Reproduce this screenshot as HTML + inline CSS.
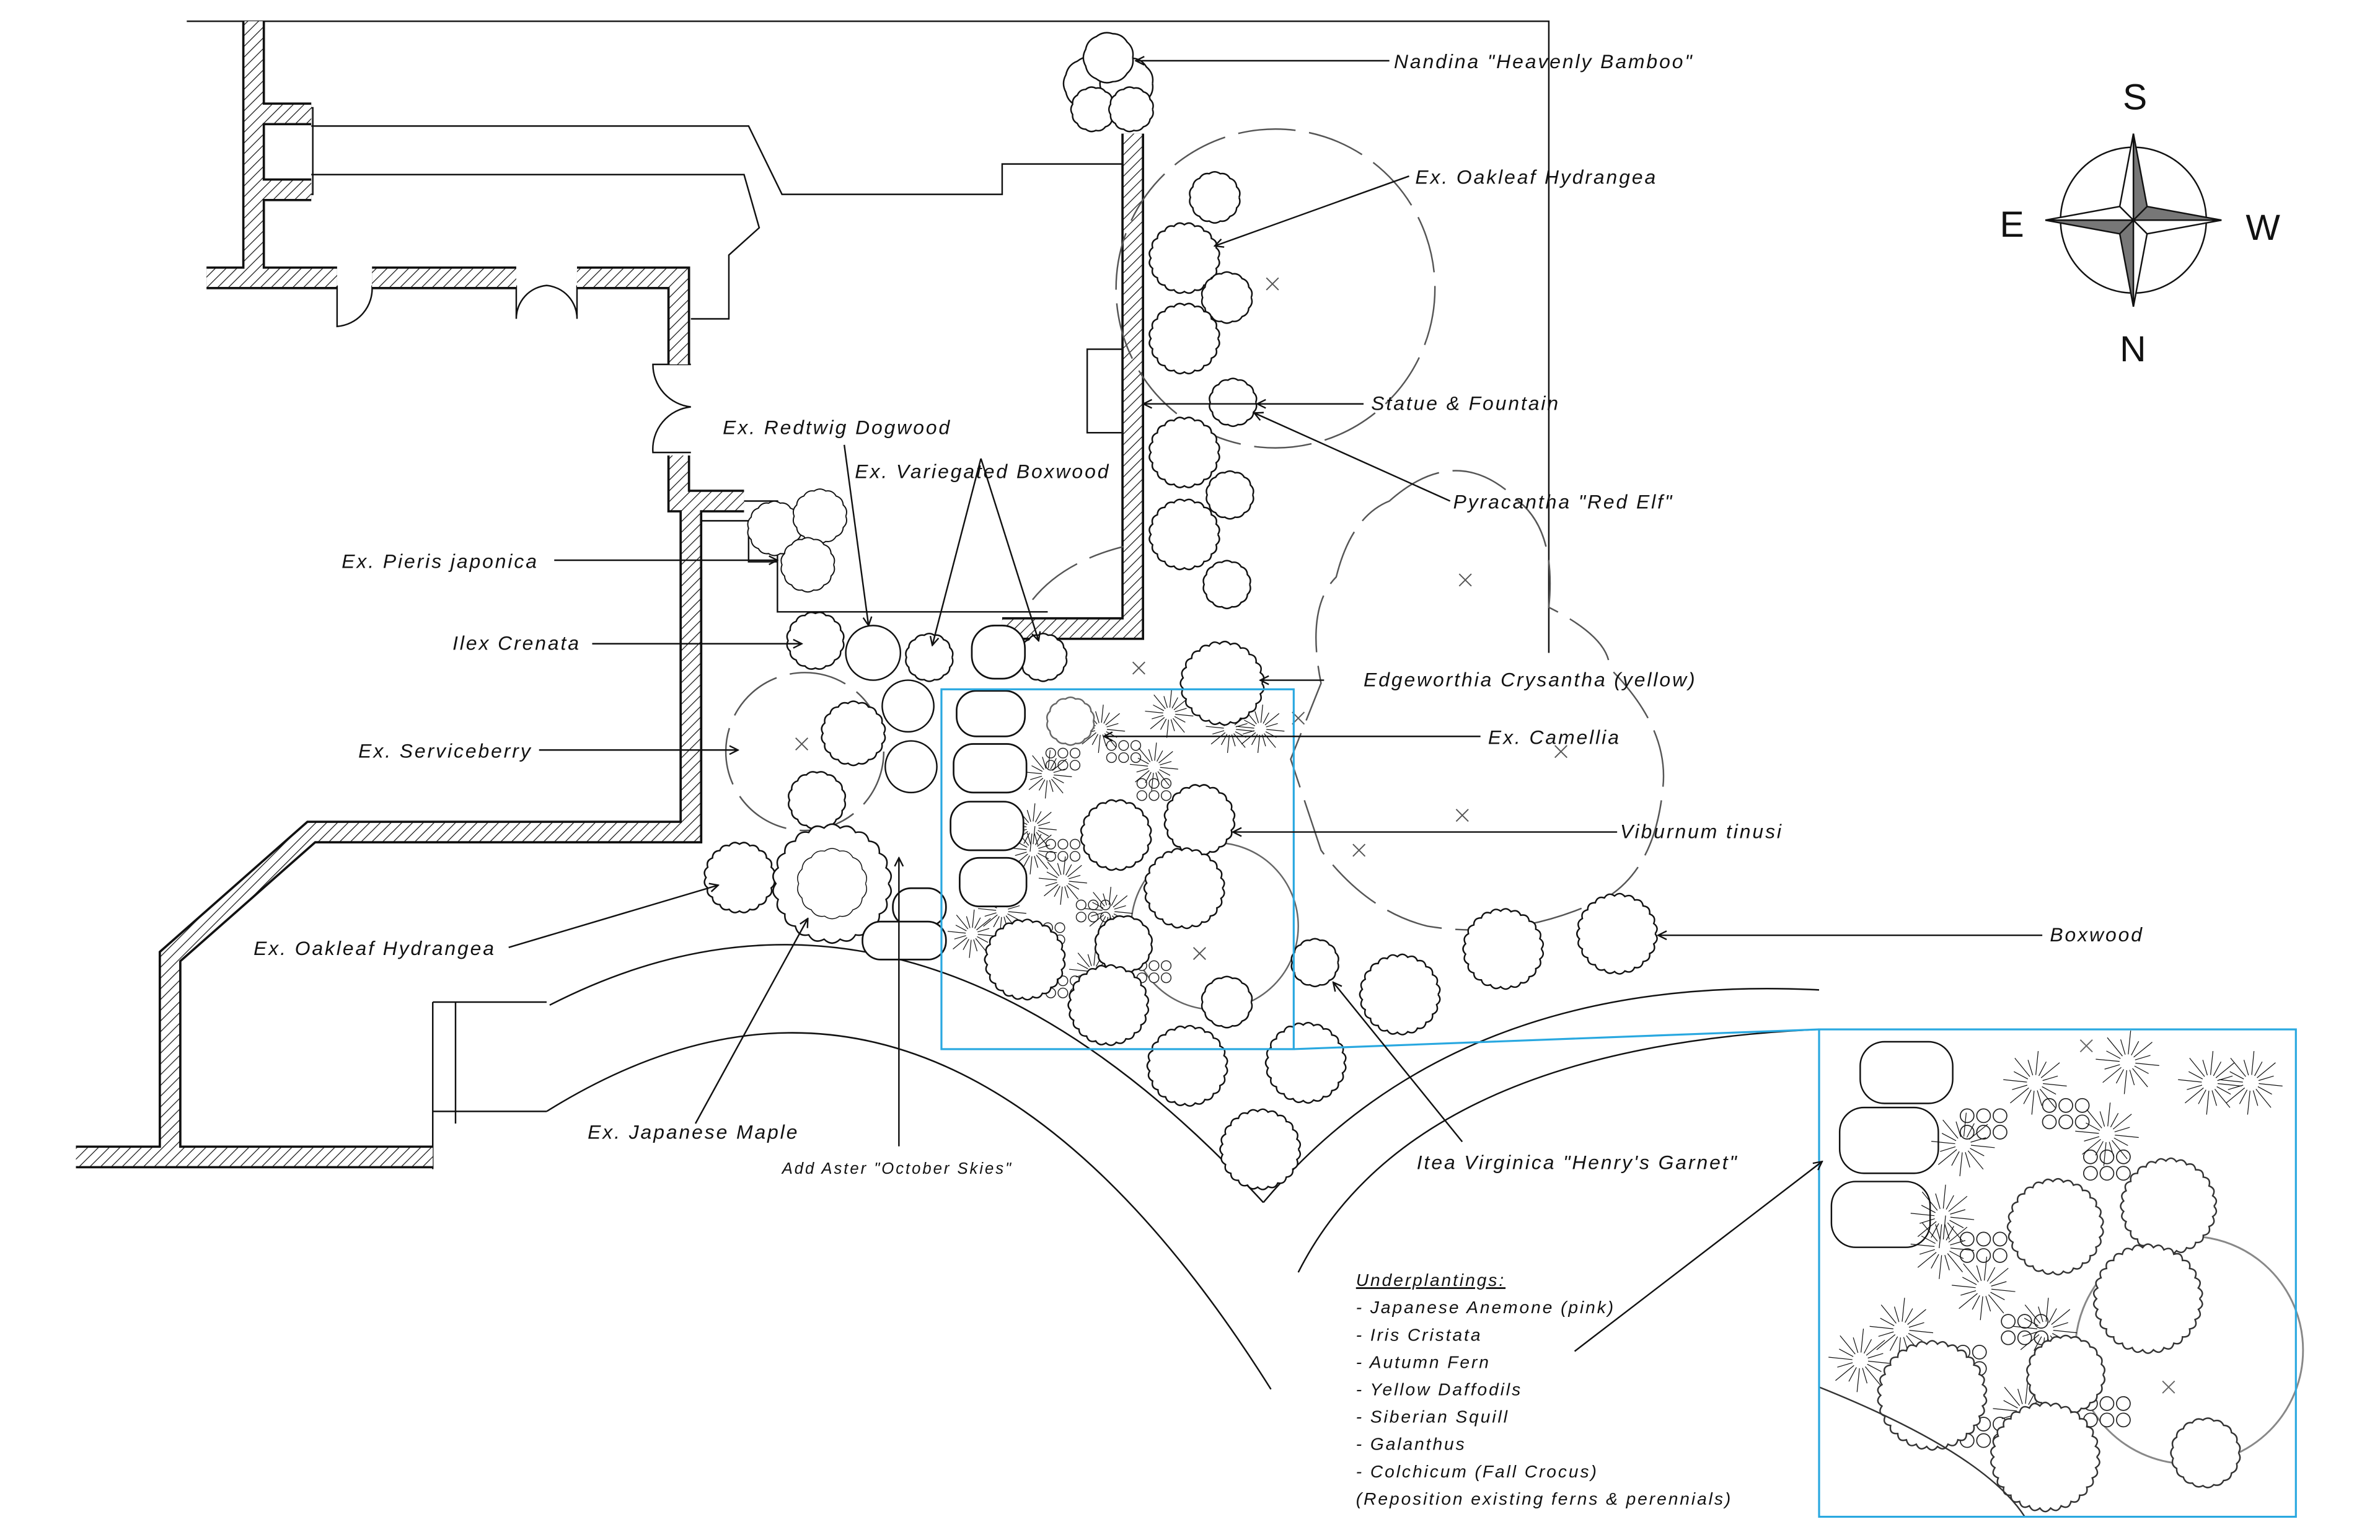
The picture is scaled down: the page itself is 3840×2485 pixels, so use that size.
<!DOCTYPE html>
<html><head><meta charset="utf-8">
<style>
html,body{margin:0;padding:0;background:#fff;}
svg{display:block;}
text{font-family:"Liberation Sans",sans-serif;font-style:italic;fill:#111;letter-spacing:1.2px;}
</style></head>
<body>
<svg id="s" width="3840" height="2485" viewBox="0 0 1567.4 1014.3" preserveAspectRatio="none" xmlns="http://www.w3.org/2000/svg">
<defs>
<pattern id="h" width="5" height="5" patternUnits="userSpaceOnUse" patternTransform="rotate(45)">
<rect width="5" height="5" fill="#fff"/><line x1="0" y1="0" x2="0" y2="5" stroke="#111" stroke-width="1"/>
</pattern>
<marker id="a" viewBox="0 0 10 10" refX="9" refY="5" markerWidth="7" markerHeight="7" orient="auto"><path d="M1,1 L9,5 L1,9" fill="none" stroke="#111" stroke-width="1.4"/></marker>
</defs>
<rect width="1567.4" height="1014.3" fill="#fff"/>
<g fill="none" stroke="#111" stroke-width="1">
<path d="M123,14 H1020 V430"/>
<path d="M175,71 H206 V128 H175"/>
<path d="M205,83 H493 L515,128 H660 V108 H740"/>
<path d="M205,115 H490 L500,150 L480,168 V210 H455"/>
<path d="M455,330 H512 V403 H690"/>
<path d="M462,343 H493 V370 H512"/>
<path d="M462,375 V555"/>
<path d="M285,660 H360 M285,732 H360 M285,660 V770 M300,660 V740"/>
<rect x="716" y="230" width="24" height="55"/>
<path d="M740,240 H746 M740,262 H746 M740,283 H746"/>
<path d="M222,188 V215 A25,25 0 0 0 245,188"/>
<path d="M340,188 V210 A22,22 0 0 1 360,188 A22,22 0 0 1 380,210 V188"/>
<path d="M455,240 H430 A28,28 0 0 0 455,268 A28,28 0 0 0 430,298 H455"/>
<path d="M362,662 Q600,540 832,792"/>
<path d="M360,732 Q620,570 837,915"/>
<path d="M832,792 Q960,640 1198,652"/>
<path d="M855,838 Q930,690 1198,678"/>
</g>
<g fill="none" stroke-linejoin="miter">
<g stroke="#111" stroke-width="15">
<path d="M167,14 V183 M136,183 H222 M245,183 H340 M380,183 H447 V240 M447,300 V330 H490"/>
<path d="M455,333 V548 H205 L112,630 V762 H50 M112,762 H285"/>
<path d="M746,88 V414 H660"/>
<path d="M167,75 H205 M167,125 H205"/>
</g>
<g stroke="url(#h)" stroke-width="12">
<path d="M167,14 V183 M136,183 H222 M245,183 H340 M380,183 H447 V240 M447,300 V330 H490"/>
<path d="M455,333 V548 H205 L112,630 V762 H50 M112,762 H285"/>
<path d="M746,88 V414 H660"/>
<path d="M167,75 H205 M167,125 H205"/>
</g>
</g>
<g fill="none" stroke="#555" stroke-width="1" stroke-dasharray="38 9">
<circle cx="840" cy="190" r="105"/>
<circle cx="530" cy="495" r="52"/>
<path d="M915,330 Q960,290 1000,330 Q1025,350 1020,400 Q1060,420 1060,440 Q1100,480 1095,520 Q1090,570 1060,590 Q1000,620 940,610 Q900,600 870,560 L850,500 L870,450 Q860,400 880,380 Q890,340 915,330 Z"/>
<path d="M680,395 Q700,370 740,360"/>
</g>
<g id="plants"></g>
<g id="stones" fill="#fff" stroke="#111" stroke-width="1.1">
<rect x="640" y="412" width="35" height="35" rx="15"/>
<rect x="630" y="455" width="45" height="30" rx="13"/>
<rect x="628" y="490" width="48" height="32" rx="13"/>
<rect x="626" y="528" width="48" height="32" rx="13"/>
<rect x="632" y="565" width="44" height="32" rx="13"/>
<rect x="588" y="585" width="35" height="25" rx="12"/>
<rect x="568" y="607" width="55" height="25" rx="12"/>
</g>
<g fill="none" stroke="#29a8e0" stroke-width="1.3">
<rect x="620" y="454" width="232" height="237"/>
<rect x="1198" y="678" width="314" height="321"/>
<path d="M852,691 L1198,678"/>
</g>
<g stroke="#111" stroke-width="1" fill="none" marker-end="url(#a)">
<path d="M915,40 H748"/>
<path d="M928,116 L800,162"/>
<path d="M898,266 H753"/>
<path d="M898,266 H828"/>
<path d="M955,330 L826,272"/>
<path d="M365,369 H512"/>
<path d="M390,424 H528"/>
<path d="M355,494 H486"/>
<path d="M556,293 L572,412"/>
<path d="M646,302 L614,425"/>
<path d="M646,302 L684,422"/>
<path d="M872,448 H830"/>
<path d="M975,485 H727"/>
<path d="M1065,548 H812"/>
<path d="M1345,616 H1092"/>
<path d="M335,624 L473,583"/>
<path d="M458,740 L532,605"/>
<path d="M592,755 V565"/>
<path d="M963,752 L878,647"/>
<path d="M1037,890 L1200,765"/>
</g>
<g font-size="13">
<text x="918" y="45">Nandina "Heavenly Bamboo"</text>
<text x="932" y="121">Ex. Oakleaf Hydrangea</text>
<text x="903" y="270">Statue &amp; Fountain</text>
<text x="957" y="335">Pyracantha "Red Elf"</text>
<text x="476" y="286">Ex. Redtwig Dogwood</text>
<text x="563" y="315">Ex. Variegated Boxwood</text>
<text x="225" y="374">Ex. Pieris japonica</text>
<text x="298" y="428">Ilex Crenata</text>
<text x="236" y="499">Ex. Serviceberry</text>
<text x="898" y="452">Edgeworthia Crysantha (yellow)</text>
<text x="980" y="490">Ex. Camellia</text>
<text x="1067" y="552">Viburnum tinusi</text>
<text x="1350" y="620">Boxwood</text>
<text x="167" y="629">Ex. Oakleaf Hydrangea</text>
<text x="387" y="750">Ex. Japanese Maple</text>
<text x="515" y="773" font-size="10.5">Add Aster "October Skies"</text>
<text x="933" y="770">Itea Virginica "Henry's Garnet"</text>
</g>
<g font-size="11.5">
<text x="893" y="847" text-decoration="underline">Underplantings:</text>
<text x="893" y="865">- Japanese Anemone (pink)</text>
<text x="893" y="883">- Iris Cristata</text>
<text x="893" y="901">- Autumn Fern</text>
<text x="893" y="919">- Yellow Daffodils</text>
<text x="893" y="937">- Siberian Squill</text>
<text x="893" y="955">- Galanthus</text>
<text x="893" y="973">- Colchicum (Fall Crocus)</text>
<text x="893" y="991">(Reposition existing ferns &amp; perennials)</text>
</g>
<g>
<circle cx="1405" cy="145" r="48" fill="none" stroke="#111" stroke-width="1"/>
<path d="M1405,88 L1414,136 L1405,145 Z M1405,202 L1396,154 L1405,145 Z M1347,145 L1396,154 L1405,145 Z M1463,145 L1414,136 L1405,145 Z" fill="#777" stroke="#111"/>
<path d="M1405,88 L1396,136 L1405,145 Z M1405,202 L1414,154 L1405,145 Z M1347,145 L1396,136 L1405,145 Z M1463,145 L1414,154 L1405,145 Z" fill="#fff" stroke="#111"/>
<text x="1398" y="72" font-size="24" style="font-style:normal">S</text>
<text x="1396" y="238" font-size="24" style="font-style:normal">N</text>
<text x="1317" y="156" font-size="24" style="font-style:normal">E</text>
<text x="1479" y="158" font-size="24" style="font-style:normal">W</text>
</g>
</svg>
<script>
var NS="http://www.w3.org/2000/svg",g=document.getElementById("plants");
function el(t,a){var e=document.createElementNS(NS,t);for(var k in a)e.setAttribute(k,a[k]);g.appendChild(e);return e;}
function shrub(cx,cy,r,col,n,w){col=col||"#111";n=n||Math.max(10,Math.round(r*0.9));var d="";
for(var i=0;i<=n;i++){var a=i/n*6.283,x=cx+r*Math.cos(a),y=cy+r*Math.sin(a);
if(i==0)d+="M"+x.toFixed(1)+","+y.toFixed(1);else{var m=(i-0.5)/n*6.283,rr=r*1.13;d+=" Q"+(cx+rr*Math.cos(m)).toFixed(1)+","+(cy+rr*Math.sin(m)).toFixed(1)+" "+x.toFixed(1)+","+y.toFixed(1);}}
el("path",{d:d,fill:"#fff",stroke:col,"stroke-width":w||1});}
function fern(cx,cy,r,col){var d="";for(var i=0;i<16;i++){var a=i/16*6.283+0.1,l=r*(i%2?0.75:1),l0=r*0.25;d+="M"+(cx+l0*Math.cos(a)).toFixed(1)+","+(cy+l0*Math.sin(a)).toFixed(1)+" L"+(cx+l*Math.cos(a)).toFixed(1)+","+(cy+l*Math.sin(a)).toFixed(1)+" ";}
el("path",{d:d,fill:"none",stroke:col||"#111","stroke-width":0.5});}
function xm(x,y,c){el("path",{d:"M"+(x-4)+","+(y-4)+"L"+(x+4)+","+(y+4)+"M"+(x+4)+","+(y-4)+"L"+(x-4)+","+(y+4),stroke:c||"#555","stroke-width":0.8});}
function circ(cx,cy,r,c,w){el("circle",{cx:cx,cy:cy,r:r,fill:"#fff",stroke:c||"#111","stroke-width":w||1});}
circ(800,610,55,"#666");
var blobs=[[700,500],[740,495],[760,520],[700,560],[720,600],[690,615],[760,640],[700,650]];
blobs.forEach(function(b){for(var i=0;i<6;i++){circ(b[0]+(i%3)*8-8,b[1]+Math.floor(i/3)*8-4,3.2,"#222",0.6);}});
var ferns=[[725,480],[770,470],[810,480],[690,510],[760,505],[680,545],[700,580],[660,600],[640,615],[730,600],[830,480],[720,640],[680,560]];
ferns.forEach(function(f){fern(f[0],f[1],16);});
shrub(718,55,17,"#111",9);shrub(742,55,17,"#111",9);shrub(730,38,16,"#111",9);shrub(720,72,14);shrub(745,72,14);
[[800,130,16],[780,170,22],[808,196,16],[780,223,22],[812,265,15],[780,298,22],[810,326,15],[780,352,22],[808,385,15]].forEach(function(p){shrub(p[0],p[1],p[2]);});
shrub(510,348,17,"#111",14,0.8);shrub(540,340,17,"#111",14,0.8);shrub(532,372,17,"#111",14,0.8);
shrub(537,422,18);circ(575,430,18);shrub(612,433,15);shrub(687,433,15);circ(598,465,17);shrub(562,483,20);circ(600,505,17);shrub(538,527,18);
shrub(487,578,22);
shrub(548,582,37,"#111",22);shrub(548,582,22,"#111",14,0.6);
shrub(805,450,26);
shrub(705,475,15,"#666");
[[735,550,22],[790,540,22],[780,585,25],[740,622,18],[675,632,25],[730,662,25],[808,660,16],[782,702,25],[860,700,25],[830,757,25],[866,634,15],[922,655,25],[990,625,25],[1065,615,25]].forEach(function(p){shrub(p[0],p[1],p[2]);});
xm(838,187);xm(528,490);xm(965,382);xm(1028,495);xm(963,537);xm(895,560);xm(790,628);xm(750,440);xm(855,473);
var ox=1198,oy=678;
function ix(x){return ox+(x-620)*1.354;} function iy(y){return oy+(y-454)*1.354;}
[[640,460,45,30],[630,492,48,32],[626,528,48,32]].forEach(function(r){el("rect",{x:ix(r[0]),y:iy(r[1]),width:r[2]*1.354,height:r[3]*1.354,rx:16,fill:"#fff",stroke:"#111","stroke-width":1});});
el("circle",{cx:ix(800),cy:iy(610),r:75,fill:"#fff",stroke:"#888","stroke-width":1.2});
blobs.forEach(function(b){for(var i=0;i<6;i++){circ(ix(b[0]+(i%3)*8-8),iy(b[1]+Math.floor(i/3)*8-4),4.5,"#222",0.7);}});
ferns.forEach(function(f){fern(ix(f[0]),iy(f[1]),21);});
[[735,550,22],[790,540,22],[780,585,25],[740,622,18],[675,632,25],[730,662,25],[808,660,16]].forEach(function(p){shrub(ix(p[0]),iy(p[1]),p[2]*1.354,"#333");});
el("path",{d:"M"+ix(620)+","+iy(628)+" Q"+ix(700)+","+iy(660)+" "+ix(720)+","+iy(691),fill:"none",stroke:"#333","stroke-width":1});
xm(ix(790),iy(628),"#666");xm(ix(750),iy(462),"#666");
</script>
</body></html>
